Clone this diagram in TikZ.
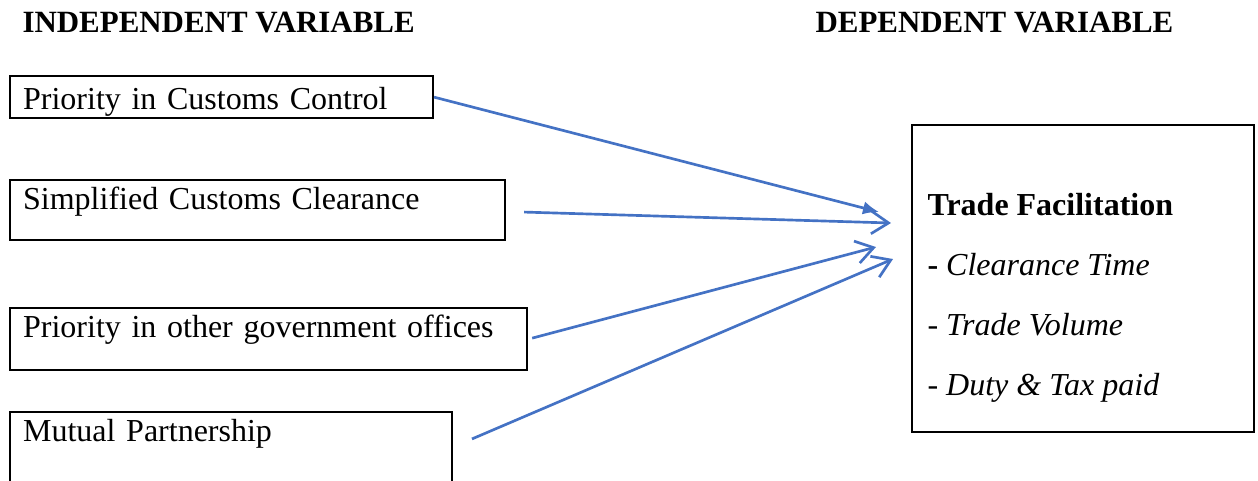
\documentclass[tikz,border=0pt]{standalone}
\usepackage{fontspec}
\setmainfont{Liberation Serif}
\usetikzlibrary{positioning, arrows.meta, calc}

\definecolor{linkblue}{HTML}{4472C4}

\tikzset{
    varbox/.style={draw, line width=0.8pt, anchor=north west, align=left,
        inner xsep=4.9pt, inner ysep=0pt},
    head/.style={anchor=base west, inner sep=0pt, font=\fontsize{11.6}{14}\selectfont\bfseries},
    item/.style={anchor=base west, inner sep=0pt},
    link/.style={draw=linkblue, line width=1pt}
}

\begin{document}
\begin{tikzpicture}[x=0.375pt, y=-0.375pt, font=\fontsize{12}{14}\selectfont]
        \useasboundingbox (0,0) rectangle (1258,480);
        % headings
        \node[head] (iv) at (22,32) {INDEPENDENT VARIABLE};
        \node[head] (dv) at (815,32) {DEPENDENT VARIABLE};
        % independent variables
        \node[varbox, text width=148.8pt, text height=12.4pt, text depth=3.4pt] (pcc) at (9,75) {Priority in Customs Control};
        \node[varbox, text width=175.8pt, text height=10.9pt, text depth=11.6pt] (scc) at (9,179) {Simplified Customs Clearance};
        \node[varbox, text width=184.1pt, text height=10.9pt, text depth=12.4pt] (pgo) at (9,307) {Priority in other government offices};
        \node[varbox, text width=155.9pt, text height=10.9pt, text depth=16pt] (mup) at (9,411) {Mutual Partnership};
        % dependent variable
        \node[varbox, minimum width=128.25pt, minimum height=115.1pt] (tf) at (911,124) {};
        \node[item] (tf_0) at (927,215) {\textbf{Trade Facilitation}};
        \node[item] (tf_1) at (927,275) {\textbf{-} \textit{Clearance Time}};
        \node[item] (tf_2) at (927,335) {\textit{- Trade Volume}};
        \node[item] (tf_3) at (927,395) {\textit{- Duty \& Tax paid}};
        % arrow ends
        \coordinate (e_1) at (879,212);
        \coordinate (e_2) at (891,223);
        \coordinate (e_3) at (876,247);
        \coordinate (e_4) at (893,259);
        \draw[link, -{Latex[length=6pt,width=5pt]}] (pcc.east) -- (e_1);
        \draw[link, -{Straight Barb[length=6.5pt,width=8.5pt]}] ($(scc.east)+(18,2)$) -- (e_2);
        \draw[link, -{Straight Barb[length=6.5pt,width=8.5pt]}] ($(pgo.east)+(4,-1)$) -- (e_3);
        \draw[link, -{Straight Barb[length=6.5pt,width=8.5pt]}] ($(mup.east)+(19,-9)$) -- (e_4);
    \end{tikzpicture}
\end{document}
